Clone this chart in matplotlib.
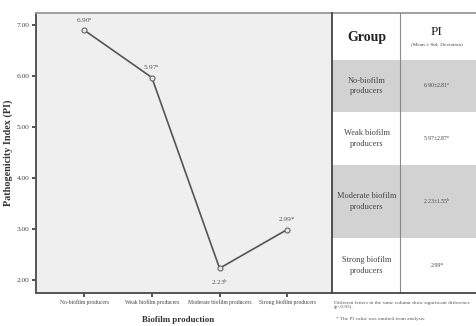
import matplotlib
matplotlib.use("Agg")
import matplotlib.pyplot as plt
from matplotlib.patches import Rectangle

# Data
categories = ["No-biofilm producers", "Weak biofilm producers",
              "Moderate biofilm producers", "Strong biofilm producers"]
pi_mean = [6.90, 5.97, 2.23, 2.99]
pi_sd = [2.81, 2.87, 1.55, None]
letters = ["a", "a", "b", "*"]
table_groups = ["No-biofilm\nproducers", "Weak biofilm\nproducers",
                "Moderate biofilm\nproducers", "Strong biofilm\nproducers"]
yticks = [2.0, 3.0, 4.0, 5.0, 6.0, 7.0]

plt.rcParams["mathtext.fontset"] = "custom"
plt.rcParams["mathtext.rm"] = "Liberation Serif"

W, H = 476, 326
fig = plt.figure(figsize=(W / 100, H / 100), dpi=100)
fig.patch.set_facecolor("white")
serif = ["Liberation Serif", "DejaVu Serif"]


def fx(px):
    return px / W


def fy(py):
    return 1 - py / H


def with_letter(v, l):
    if l == "*":
        return f"{v:.2f}*"
    return f"{v:.2f}" + rf"$^{{\mathrm{{{l}}}}}$"


# ---- line chart ----
left, right, top, bottom = 36, 332, 13, 293
ax = fig.add_axes([fx(left), fy(bottom), fx(right - left), (bottom - top) / H])
ax.set_facecolor("#efefef")
x = list(range(len(categories)))
ax.plot(x, pi_mean, color="#555555", lw=1.2, zorder=2)
ax.plot(x, pi_mean, "o", ms=3.6, mfc="#e8e8e8", mec="#666666", mew=0.8, zorder=3)
ax.set_xlim(-0.71, 3.66)
ax.set_ylim(1.745, 7.235)
ax.set_xticks(x)
ax.set_xticklabels(categories, family=serif, fontsize=4.1, color="#444444")
ax.set_yticks(yticks)
ax.set_yticklabels([f"{v:.2f}" for v in yticks], family=serif, fontsize=5.3, color="#444444")
ax.tick_params(axis="both", length=3, width=1.3, color="#444444", pad=1.5)
for s in ("top", "right"):
    ax.spines[s].set_visible(False)
for s in ("left", "bottom"):
    ax.spines[s].set_color("#555555")
    ax.spines[s].set_linewidth(1.4)

for xi, v, l in zip(x, pi_mean, letters):
    dy = -10 if xi == 2 else 7
    ax.annotate(with_letter(v, l), (xi, v), xytext=(0, dy), textcoords="offset points",
                ha="center", va="center", family=serif, fontsize=5.2, color="#555555")

ax.set_ylabel("Pathogenicity Index (PI)", family=serif, fontsize=7.3,
              fontweight="bold", color="#333333", labelpad=3)
fig.text(fx(178), fy(320), "Biofilm production", family=serif, fontsize=6.4,
         fontweight="bold", color="#333333", ha="center", va="center")

# ---- table ----
tax = fig.add_axes([0, 0, 1, 1])
tax.set_xlim(0, W)
tax.set_ylim(H, 0)
tax.axis("off")

col0, col1, col2 = 332, 400, 476
row_edges = [13, 60, 112, 165, 238, 293]
for i in range(len(table_groups)):
    y0, y1 = row_edges[i + 1], row_edges[i + 2]
    fc = "#d2d2d2" if i % 2 == 0 else "white"
    tax.add_patch(Rectangle((col0, y0), col2 - col0, y1 - y0, fc=fc, ec="none"))
    cy = (y0 + y1) / 2
    tax.text((col0 + col1) / 2 + 1, cy, table_groups[i], family=serif, fontsize=6,
             color="#444444", ha="center", va="center", linespacing=1.35)
    if pi_sd[i] is None:
        val = f"{pi_mean[i]:.2f}*"
    else:
        val = f"{pi_mean[i]:.2f}\u00b1{pi_sd[i]:.2f}" + rf"$^{{\mathrm{{{letters[i]}}}}}$"
    tax.text(437, cy, val, family=serif, fontsize=4.2, color="#444444",
             ha="center", va="center")

# header
tax.text((col0 + col1) / 2 + 1, 38, "Group", family=serif, fontsize=10,
         fontweight="bold", color="#222222", ha="center", va="center")
tax.text(437, 32, "PI", family=serif, fontsize=9.5, color="#222222",
         ha="center", va="center")
tax.text(437, 44, "(Mean \u00b1 Std. Deviation)", family=serif, fontsize=3.8,
         color="#444444", ha="center", va="center")

# borders
tax.plot([left, W], [top, top], color="#999999", lw=1.3)
tax.plot([col0, col0], [top, bottom], color="#444444", lw=1.3)
tax.plot([col1, col1], [top, bottom], color="#888888", lw=0.8)
tax.plot([col0, W], [bottom, bottom], color="#444444", lw=1.3)

# footnotes
tax.text(334, 305, "Different letters in the same column show significant difference\n(p<0.05).",
         family=serif, fontsize=3.75, color="#555555", ha="left", va="center", linespacing=1.3)
tax.text(336, 319, "* The PI value was omitted from analysis.", family=serif,
         fontsize=3.75, color="#555555", ha="left", va="center")

fig.savefig("out.png", dpi=100)
